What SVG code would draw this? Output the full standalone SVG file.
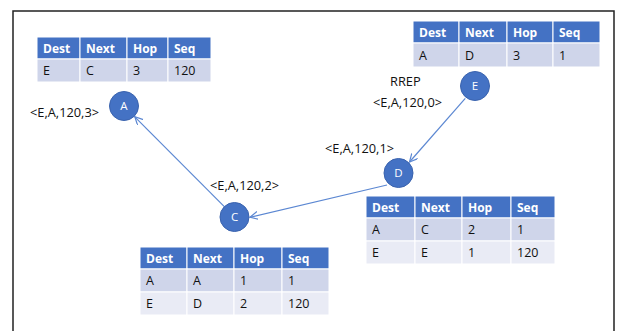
<svg xmlns="http://www.w3.org/2000/svg" width="621" height="331" viewBox="0 0 621 331">
<defs>
<style>
.hd{fill:#4472C4;stroke:#fff;stroke-width:1}
.r1{fill:#CFD5EA;stroke:#fff;stroke-width:1}
.r2{fill:#E9EBF5;stroke:#fff;stroke-width:1}
.ht{font-family:"Open Sans","Noto Sans",sans-serif;font-size:12px;font-weight:bold;fill:#fff}
.bt{font-family:"Open Sans","Noto Sans",sans-serif;font-size:12.5px;fill:#111}
.lb{font-family:"Open Sans","Noto Sans",sans-serif;font-size:12.8px;fill:#111}
.nd{fill:#4472C4;stroke:#3A63AE;stroke-width:1}
.nt{font-family:"Open Sans","Noto Sans",sans-serif;font-size:11.5px;fill:#fff;text-anchor:middle}
.cn{stroke:#5B87D2;stroke-width:1.2;fill:none}
</style>
<marker id="arr" markerUnits="userSpaceOnUse" markerWidth="12" markerHeight="12" refX="8" refY="4" orient="auto">
<path d="M0,0 L8,4 L0,8" fill="none" stroke="#5B87D2" stroke-width="1.2"/>
</marker>
</defs>
<rect width="621" height="331" fill="#fff"/>
<path d="M13,331 L13,11 L614,11 L614,331" fill="none" stroke="#222" stroke-width="1.5"/>

<g id="connectors">
<line class="cn" x1="465.3" y1="98.3" x2="409.5" y2="162" marker-end="url(#arr)"/>
<line class="cn" x1="387" y1="185" x2="250" y2="217.3" marker-end="url(#arr)"/>
<line class="cn" x1="224.3" y1="206.7" x2="134.8" y2="116.8" marker-end="url(#arr)"/>
</g>

<g id="labels">
<text class="lb" x="390" y="86">RREP</text>
<text class="lb" x="373" y="107">&lt;E,A,120,0&gt;</text>
<text class="lb" x="325" y="153">&lt;E,A,120,1&gt;</text>
<text class="lb" x="210" y="190">&lt;E,A,120,2&gt;</text>
<text class="lb" x="30" y="117">&lt;E,A,120,3&gt;</text>
</g>

<g id="node-A">
<circle class="nd" cx="124" cy="106" r="14.5"/>
<text class="nt" x="124" y="110">A</text>
</g>
<g id="node-E">
<circle class="nd" cx="475" cy="86" r="14.5"/>
<text class="nt" x="475" y="90">E</text>
</g>
<g id="node-D">
<circle class="nd" cx="398.5" cy="173" r="14.5"/>
<text class="nt" x="398.5" y="177">D</text>
</g>
<g id="node-C">
<circle class="nd" cx="234.5" cy="217" r="14.5"/>
<text class="nt" x="234.5" y="221">C</text>
</g>

<g id="table-A">
<rect class="hd" x="37" y="37" width="43" height="22"/>
<rect class="hd" x="80" y="37" width="47" height="22"/>
<rect class="hd" x="127" y="37" width="41" height="22"/>
<rect class="hd" x="168" y="37" width="43" height="22"/>
<rect class="r1" x="37" y="59" width="43" height="23"/>
<rect class="r1" x="80" y="59" width="47" height="23"/>
<rect class="r1" x="127" y="59" width="41" height="23"/>
<rect class="r1" x="168" y="59" width="43" height="23"/>
<text class="ht" x="43" y="52.5">Dest</text>
<text class="ht" x="86" y="52.5">Next</text>
<text class="ht" x="133" y="52.5">Hop</text>
<text class="ht" x="174" y="52.5">Seq</text>
<text class="bt" x="43" y="75">E</text>
<text class="bt" x="86" y="75">C</text>
<text class="bt" x="133" y="75">3</text>
<text class="bt" x="174" y="75">120</text>
</g>

<g id="table-E">
<rect class="hd" x="413" y="21" width="46" height="22"/>
<rect class="hd" x="459" y="21" width="48" height="22"/>
<rect class="hd" x="507" y="21" width="46" height="22"/>
<rect class="hd" x="553" y="21" width="47" height="22"/>
<rect class="r1" x="413" y="43" width="46" height="24"/>
<rect class="r1" x="459" y="43" width="48" height="24"/>
<rect class="r1" x="507" y="43" width="46" height="24"/>
<rect class="r1" x="553" y="43" width="47" height="24"/>
<text class="ht" x="419" y="36.5">Dest</text>
<text class="ht" x="465" y="36.5">Next</text>
<text class="ht" x="513" y="36.5">Hop</text>
<text class="ht" x="559" y="36.5">Seq</text>
<text class="bt" x="419" y="59.5">A</text>
<text class="bt" x="465" y="59.5">D</text>
<text class="bt" x="513" y="59.5">3</text>
<text class="bt" x="559" y="59.5">1</text>
</g>

<g id="table-D">
<rect class="hd" x="366" y="196" width="49" height="22"/>
<rect class="hd" x="415" y="196" width="47" height="22"/>
<rect class="hd" x="462" y="196" width="49" height="22"/>
<rect class="hd" x="511" y="196" width="44" height="22"/>
<rect class="r1" x="366" y="218" width="49" height="23"/>
<rect class="r1" x="415" y="218" width="47" height="23"/>
<rect class="r1" x="462" y="218" width="49" height="23"/>
<rect class="r1" x="511" y="218" width="44" height="23"/>
<rect class="r2" x="366" y="241" width="49" height="23"/>
<rect class="r2" x="415" y="241" width="47" height="23"/>
<rect class="r2" x="462" y="241" width="49" height="23"/>
<rect class="r2" x="511" y="241" width="44" height="23"/>
<text class="ht" x="372" y="211.5">Dest</text>
<text class="ht" x="421" y="211.5">Next</text>
<text class="ht" x="468" y="211.5">Hop</text>
<text class="ht" x="517" y="211.5">Seq</text>
<text class="bt" x="372" y="234">A</text>
<text class="bt" x="421" y="234">C</text>
<text class="bt" x="468" y="234">2</text>
<text class="bt" x="517" y="234">1</text>
<text class="bt" x="372" y="257">E</text>
<text class="bt" x="421" y="257">E</text>
<text class="bt" x="468" y="257">1</text>
<text class="bt" x="517" y="257">120</text>
</g>

<g id="table-C">
<rect class="hd" x="140" y="247" width="47" height="22"/>
<rect class="hd" x="187" y="247" width="47" height="22"/>
<rect class="hd" x="234" y="247" width="48" height="22"/>
<rect class="hd" x="282" y="247" width="47" height="22"/>
<rect class="r1" x="140" y="269" width="47" height="23"/>
<rect class="r1" x="187" y="269" width="47" height="23"/>
<rect class="r1" x="234" y="269" width="48" height="23"/>
<rect class="r1" x="282" y="269" width="47" height="23"/>
<rect class="r2" x="140" y="292" width="47" height="23"/>
<rect class="r2" x="187" y="292" width="47" height="23"/>
<rect class="r2" x="234" y="292" width="48" height="23"/>
<rect class="r2" x="282" y="292" width="47" height="23"/>
<text class="ht" x="146" y="262.5">Dest</text>
<text class="ht" x="193" y="262.5">Next</text>
<text class="ht" x="240" y="262.5">Hop</text>
<text class="ht" x="288" y="262.5">Seq</text>
<text class="bt" x="146" y="285">A</text>
<text class="bt" x="193" y="285">A</text>
<text class="bt" x="240" y="285">1</text>
<text class="bt" x="288" y="285">1</text>
<text class="bt" x="146" y="308">E</text>
<text class="bt" x="193" y="308">D</text>
<text class="bt" x="240" y="308">2</text>
<text class="bt" x="288" y="308">120</text>
</g>
</svg>
